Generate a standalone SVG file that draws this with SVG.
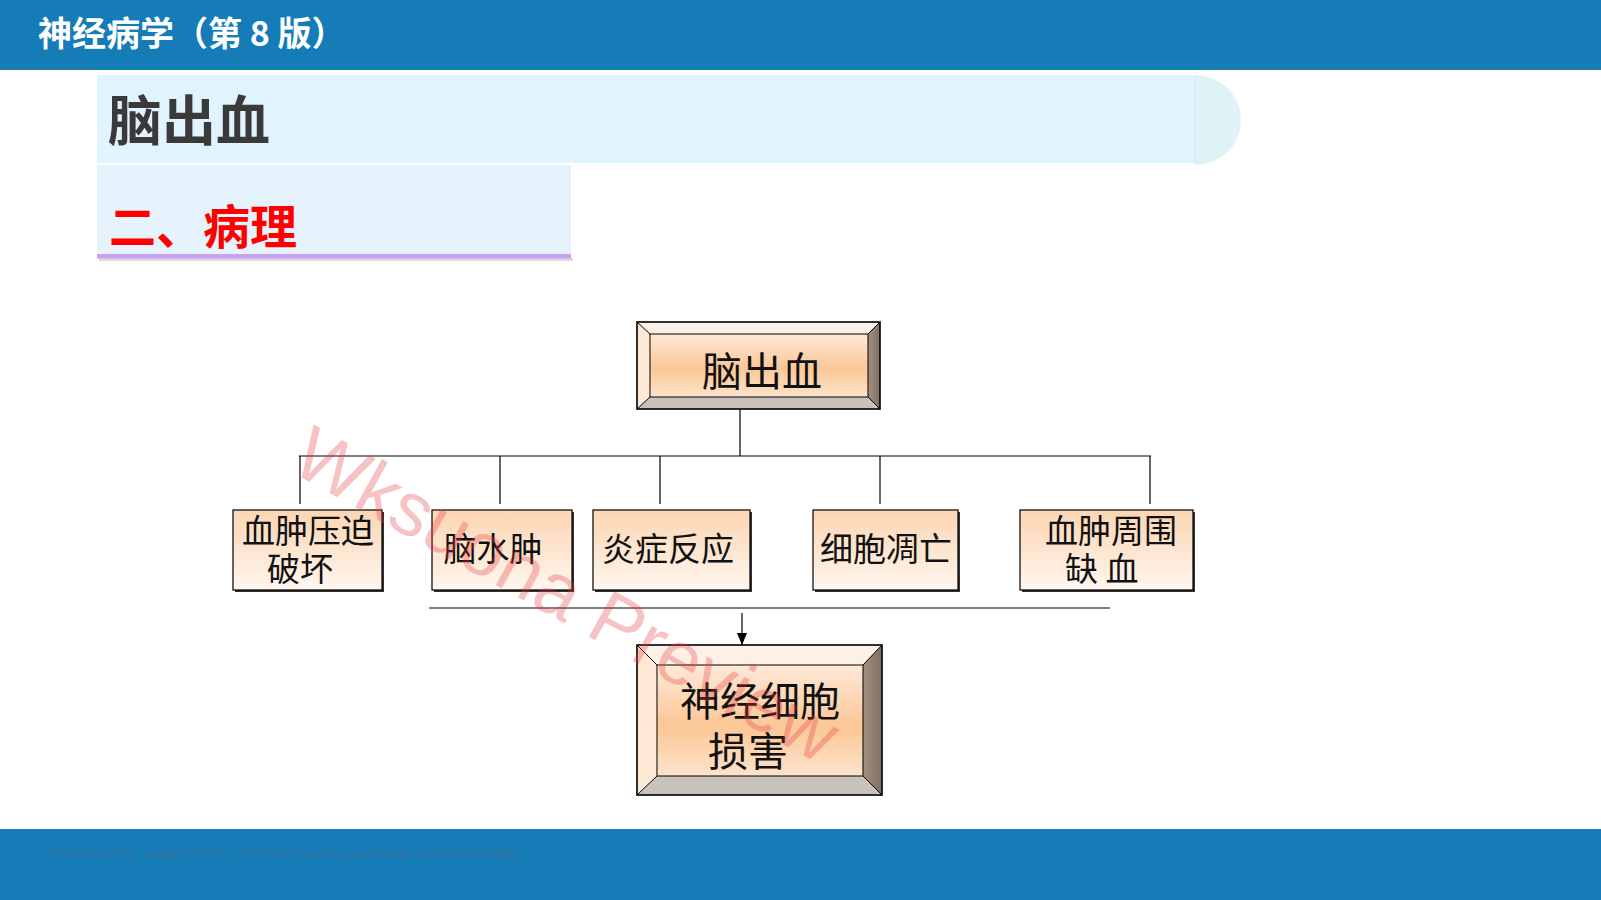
<svg xmlns="http://www.w3.org/2000/svg" width="1601" height="900" viewBox="0 0 1601 900">
<defs>
<style>
.cjk{font-family:"Noto Sans CJK SC","Liberation Sans",sans-serif;}
.box{stroke:#000;stroke-width:1.2;}
.boxtxt{font-family:"Noto Sans CJK SC","Liberation Sans",sans-serif;font-size:33px;fill:#111;}
.bigtxt{font-family:"Noto Sans CJK SC","Liberation Sans",sans-serif;font-size:40px;fill:#111;}
.conn line{stroke:#000;stroke-width:1.2;}
.edge{stroke:#000;stroke-width:1;fill:none;}
</style>
<linearGradient id="childFill" x1="0" y1="0" x2="0" y2="1">
<stop offset="0" stop-color="#fcd6b4"/>
<stop offset="0.5" stop-color="#fde5d0"/>
<stop offset="1" stop-color="#fff7f0"/>
</linearGradient>
<linearGradient id="innerFill" x1="0" y1="0" x2="0" y2="1">
<stop offset="0" stop-color="#fee9d8"/>
<stop offset="0.55" stop-color="#fbc796"/>
<stop offset="1" stop-color="#fde3cb"/>
</linearGradient>
<linearGradient id="rightBevel" x1="0" y1="0" x2="1" y2="0">
<stop offset="0" stop-color="#a39080"/>
<stop offset="1" stop-color="#7f6f64"/>
</linearGradient>
<marker id="arrow" markerUnits="userSpaceOnUse" markerWidth="12" markerHeight="10" refX="12" refY="5" orient="auto">
<path d="M0,0 L12,5 L0,10 z" fill="#000"/>
</marker>
</defs>

<!-- header & footer -->
<rect x="0" y="0" width="1601" height="70" fill="#157cb8"/>
<text x="38" y="46" class="cjk" font-size="34" font-weight="bold" fill="#ffffff">神经病学（第 8 版）</text>
<rect x="0" y="829" width="1601" height="71" fill="#157cb8"/>
<text x="48" y="858" font-family="Liberation Sans, Arial, sans-serif" font-size="14" font-weight="bold" fill="#3a6f97" opacity="0.6">Preview only , page 4 of 17 , Full file requires purchase or membership</text>

<!-- title band -->
<rect x="97" y="75" width="1098" height="88" fill="#e1f4fd"/>
<path d="M1195,75 A46,45 0 0 1 1195,165 Z" fill="#dff2f6"/>
<line x1="1195" y1="75" x2="1195" y2="164" stroke="#d6ecf3" stroke-width="1.5"/>
<text x="108" y="141" class="cjk" font-size="54" font-weight="bold" fill="#3a3a3a">脑出血</text>

<rect x="97" y="165" width="474" height="90" fill="#e7f3fc"/>
<rect x="99" y="258" width="474" height="3" fill="#dcdcdc"/>
<rect x="97" y="254" width="474" height="4.5" fill="#c9a2ef"/>
<text x="109" y="244" class="cjk" font-size="47" font-weight="bold" fill="#ff0000">二、病理</text>

<!-- connectors -->
<g id="connectors" class="conn">
<line x1="740" y1="409" x2="740" y2="456"/>
<line x1="299" y1="456" x2="1151" y2="456"/>
<line x1="300" y1="456" x2="300" y2="504"/>
<line x1="500" y1="456" x2="500" y2="504"/>
<line x1="660" y1="456" x2="660" y2="504"/>
<line x1="880" y1="456" x2="880" y2="504"/>
<line x1="1150" y1="456" x2="1150" y2="504"/>
<line x1="429" y1="608" x2="1110" y2="608"/>
<line x1="742" y1="613" x2="742" y2="645" marker-end="url(#arrow)"/>
</g>

<!-- top node -->
<g id="node-top">
<rect x="650" y="334" width="218" height="63" fill="url(#innerFill)"/>
<polygon points="637,322 880,322 868,334 650,334" fill="#fdf1e7"/>
<polygon points="637,322 650,334 650,397 637,409" fill="#fde7d5"/>
<polygon points="880,322 880,409 868,397 868,334" fill="url(#rightBevel)"/>
<polygon points="637,409 650,397 868,397 880,409" fill="#c8c2bc"/>
<rect x="650" y="334" width="218" height="63" class="edge"/>
<path d="M637,322 L650,334 M880,322 L868,334 M637,409 L650,397 M880,409 L868,397" class="edge"/>
<rect x="637" y="322" width="243" height="87" fill="none" stroke="#000" stroke-width="1.6"/>
<text x="762" y="386" class="bigtxt" text-anchor="middle">脑出血</text>
</g>

<!-- child nodes -->
<g id="node-1">
<rect x="235" y="512" width="149" height="80" fill="#333"/>
<rect x="233" y="510" width="149" height="80" fill="url(#childFill)" class="box"/>
<text x="308" y="543" class="boxtxt" text-anchor="middle">血肿压迫</text>
<text x="267" y="581" class="boxtxt">破坏</text>
</g>
<g id="node-2">
<rect x="434" y="512" width="140" height="80" fill="#333"/>
<rect x="432" y="510" width="140" height="80" fill="url(#childFill)" class="box"/>
<text x="493" y="561" class="boxtxt" text-anchor="middle">脑水肿</text>
</g>
<g id="node-3">
<rect x="595" y="512" width="157" height="80" fill="#333"/>
<rect x="593" y="510" width="157" height="80" fill="url(#childFill)" class="box"/>
<text x="668" y="561" class="boxtxt" text-anchor="middle">炎症反应</text>
</g>
<g id="node-4">
<rect x="815" y="512" width="145" height="80" fill="#333"/>
<rect x="813" y="510" width="145" height="80" fill="url(#childFill)" class="box"/>
<text x="886" y="561" class="boxtxt" text-anchor="middle">细胞凋亡</text>
</g>
<g id="node-5">
<rect x="1022" y="512" width="173" height="80" fill="#333"/>
<rect x="1020" y="510" width="173" height="80" fill="url(#childFill)" class="box"/>
<text x="1111" y="543" class="boxtxt" text-anchor="middle">血肿周围</text>
<text x="1065" y="581" class="boxtxt">缺 血</text>
</g>

<!-- bottom node -->
<g id="node-bottom">
<rect x="657" y="665" width="206" height="111" fill="url(#innerFill)"/>
<polygon points="637,645 882,645 863,665 657,665" fill="#fdf1e7"/>
<polygon points="637,645 657,665 657,776 637,795" fill="#fde7d5"/>
<polygon points="882,645 882,795 863,776 863,665" fill="url(#rightBevel)"/>
<polygon points="637,795 657,776 863,776 882,795" fill="#c8c2bc"/>
<rect x="657" y="665" width="206" height="111" class="edge"/>
<path d="M637,645 L657,665 M882,645 L863,665 M637,795 L657,776 M882,795 L863,776" class="edge"/>
<rect x="637" y="645" width="245" height="150" fill="none" stroke="#000" stroke-width="1.6"/>
<text x="760" y="716" class="bigtxt" text-anchor="middle">神经细胞</text>
<text x="748" y="766" class="bigtxt" text-anchor="middle">损害</text>
</g>

<!-- watermark -->
<text x="288" y="470" transform="rotate(29 288 470)" font-family="Liberation Sans, Arial, sans-serif" font-size="76" fill="#e8383d" opacity="0.3">Wksuona Preview</text>
</svg>
